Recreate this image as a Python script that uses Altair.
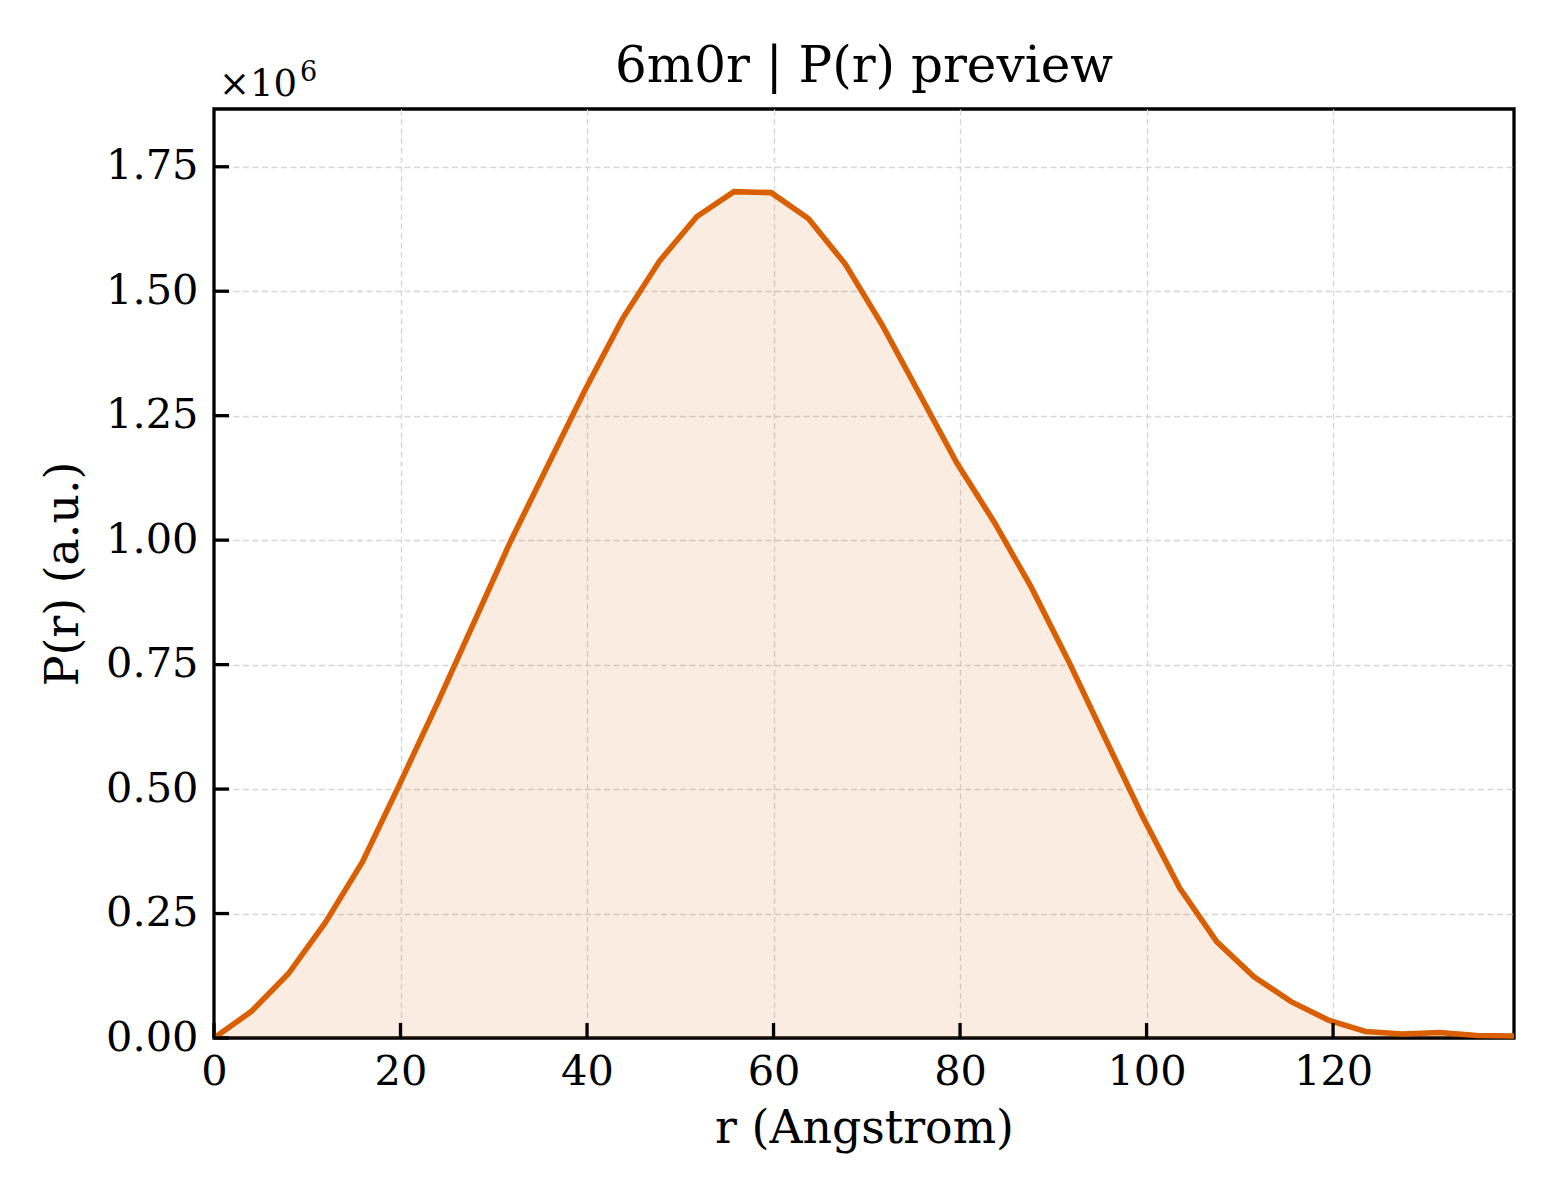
import altair as alt
import pandas as pd

# r values (Angstrom)
r_vals = [0.0, 3.98, 7.97, 11.95, 15.93, 19.91, 23.9, 27.88, 31.86, 35.85,
          39.83, 43.81, 47.79, 51.78, 55.76, 59.74, 63.73, 67.71, 71.69, 75.67,
          79.66, 83.64, 87.62, 91.61, 95.59, 99.57, 103.55, 107.54, 111.52, 115.5,
          119.49, 123.47, 127.45, 131.43, 135.42, 139.4]
# P(r) in units of 1e6
p_vals = [0.0, 0.053, 0.129, 0.232, 0.354, 0.51, 0.67, 0.835, 1.0, 1.152,
          1.303, 1.445, 1.561, 1.65, 1.700, 1.698, 1.646, 1.554, 1.431, 1.293,
          1.155, 1.037, 0.906, 0.758, 0.601, 0.445, 0.301, 0.193, 0.123, 0.073,
          0.036, 0.013, 0.008, 0.011, 0.005, 0.004]

x_ticks = [0, 20, 40, 60, 80, 100, 120]
y_ticks = [0.0, 0.25, 0.5, 0.75, 1.0, 1.25, 1.5, 1.75]

W, H = 1300, 929
FONT = "DejaVu Serif"
ORANGE = "#d95f02"

df = pd.DataFrame({"r": r_vals, "p": p_vals})
xt = pd.DataFrame({"r": x_ticks})
yt = pd.DataFrame({"p": y_ticks})

xscale = alt.Scale(domain=[0, 139.4], nice=False, zero=False)
yscale = alt.Scale(domain=[0, 1.866], nice=False, zero=False)

grid_op = {"condition": {"test": "datum.value === 0", "value": 0}, "value": 1}

xaxis = alt.Axis(values=x_ticks, ticks=False, domain=False,
                 labelFontSize=41.5, labelPadding=13, titleFontSize=45.8,
                 titleFontWeight="normal", titlePadding=14, labelFlush=False,
                 gridColor="#d6d6d6", gridDash=[6, 3.5], gridWidth=1.3,
                 gridOpacity=grid_op,
                 labelColor="black", titleColor="black")
yaxis = alt.Axis(values=y_ticks, ticks=False, domain=False,
                 format=".2f", labelFontSize=41.5, labelPadding=16,
                 titleFontSize=45.8, titleFontWeight="normal", titlePadding=18,
                 labelFlush=False,
                 gridColor="#d6d6d6", gridDash=[6, 3.5], gridWidth=1.3,
                 gridOpacity=grid_op,
                 labelColor="black", titleColor="black")

X = alt.X("r:Q", scale=xscale, axis=xaxis, title="r (Angstrom)")
Y = alt.Y("p:Q", scale=yscale, axis=yaxis, title="P(r) (a.u.)")

base = alt.Chart(df)
area = base.mark_area(color=ORANGE, opacity=0.12).encode(x=X, y=Y)
line = base.mark_line(color=ORANGE, strokeWidth=5.6, strokeJoin="miter").encode(x=X, y=Y)

xtick_rules = alt.Chart(xt).mark_rule(color="black", strokeWidth=3.3).encode(
    x=X,
    y=alt.value(H),
    y2=alt.value(H - 15),
)
ytick_rules = alt.Chart(yt).mark_rule(color="black", strokeWidth=3.3).encode(
    y=Y,
    x=alt.value(0),
    x2=alt.value(15),
)

mult = alt.Chart(pd.DataFrame({"s": ["×10"]})).mark_text(
    font=FONT, fontSize=37, align="left", baseline="alphabetic", color="black"
).encode(text="s:N", x=alt.value(5), y=alt.value(-13))
sup = alt.Chart(pd.DataFrame({"s": ["6"]})).mark_text(
    font=FONT, fontSize=27, align="left", baseline="alphabetic", color="black"
).encode(text="s:N", x=alt.value(86), y=alt.value(-28))

chart = alt.layer(area, line, xtick_rules, ytick_rules, mult, sup).properties(
    width=W, height=H,
    title=alt.Title("6m0r | P(r) preview", fontSize=50, fontWeight="normal",
                    font=FONT, offset=25, dy=58, color="black", frame="group"),
    autosize=alt.AutoSizeParams(type="none"),
    padding={"left": 206, "top": 101, "right": 38, "bottom": 154},
).configure(font=FONT).configure_view(
    stroke="black", strokeWidth=3.3
).configure_axis(labelFont=FONT, titleFont=FONT)

chart.save("out.html", embed_options={"renderer": "svg", "actions": False})
